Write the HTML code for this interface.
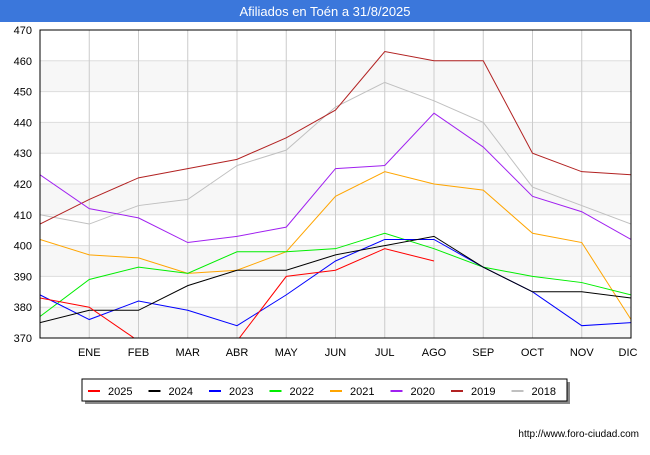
<!DOCTYPE html>
<html><head><meta charset="utf-8"><style>
body{margin:0;background:#fff;font-family:"Liberation Sans",sans-serif}
</style></head><body>
<svg width="650" height="450" xmlns="http://www.w3.org/2000/svg" font-family="Liberation Sans, sans-serif">
<rect x="0" y="0" width="650" height="22" fill="#3b77db"/>
<text x="325" y="16" text-anchor="middle" fill="#fff" font-size="13">Afiliados en Toén a 31/8/2025</text>
<g id="grid"></g>
<g id="series" clip-path="url(#c)"></g>
<defs><clipPath id="c"><rect x="40" y="30" width="591" height="308"/></clipPath></defs>
<rect x="40" y="30" width="591" height="308" fill="none" stroke="#000"/>
<g id="axes"></g>
<rect x="85" y="382" width="485" height="22" fill="#888"/>
<rect x="82" y="379" width="485" height="22" fill="#fff" stroke="#000"/>
<g id="legend"></g>
<text x="639" y="437" text-anchor="end" font-size="10">http://www.foro-ciudad.com</text>
</svg>
<script>
const months=["","ENE","FEB","MAR","ABR","MAY","JUN","JUL","AGO","SEP","OCT","NOV","DIC"];
const yTicks=[370,380,390,400,410,420,430,440,450,460,470];
const names=["2025","2024","2023","2022","2021","2020","2019","2018"];
const colors=["#ff0000","#000000","#0000ff","#00ee00","#ffa500","#a020f0","#b22222","#c0c0c0"];
const s2025=[383,380,369,365,369,390,392,399,395];
const s2024=[375,379,379,387,392,392,397,400,403,393,385,385,383];
const s2023=[384,376,382,379,374,384,395,402,402,393,385,374,375];
const s2022=[377,389,393,391,398,398,399,404,399,393,390,388,384];
const s2021=[402,397,396,391,392,398,416,424,420,418,404,401,376];
const s2020=[423,412,409,401,403,406,425,426,443,432,416,411,402];
const s2019=[407,415,422,425,428,435,444,463,460,460,430,424,423];
const s2018=[410,407,413,415,426,431,445,453,447,440,419,413,407];
const all=[s2025,s2024,s2023,s2022,s2021,s2020,s2019,s2018];
const NS="http://www.w3.org/2000/svg";
const X=i=>40+i*(591/12), Y=v=>338-(v-370)*308/100;
function mk(t,a,p){const e=document.createElementNS(NS,t);for(const k in a)e.setAttribute(k,a[k]);p.appendChild(e);return e;}
const g=document.getElementById("grid"),ax=document.getElementById("axes");
for(let i=0;i<yTicks.length-1;i+=2){const r=mk("rect",{x:40,y:Y(yTicks[i+1]),width:591,height:Y(yTicks[i])-Y(yTicks[i+1]),fill:"#f7f7f7"},g);

}
yTicks.forEach(v=>{const l=mk("line",{x1:40,x2:631,y1:Y(v),y2:Y(v),stroke:"#ddd"},g);


const t=mk("text",{x:32,y:Y(v)+4,"text-anchor":"end","font-size":"11"},ax);t.textContent=v;

});
months.forEach((m,i)=>{if(i>0){const l=mk("line",{x1:X(i),x2:X(i),y1:30,y2:338,stroke:"#ccc"},g);

}
const t=mk("text",{x:X(i)-(i==12?3:0),y:356,"text-anchor":"middle","font-size":"11"},ax);t.textContent=m;

});
const sg=document.getElementById("series");
for(let k=all.length-1;k>=0;k--){const p=mk("polyline",{points:all[k].map((v,i)=>X(i)+","+Y(v)).join(" "),fill:"none",stroke:colors[k],"stroke-width":1},sg);

}
const lg=document.getElementById("legend");
names.forEach((n,k)=>{const x=88+k*60.5;const l=mk("line",{x1:x,x2:x+12,y1:391,y2:391,stroke:colors[k],"stroke-width":2},lg);


const t=mk("text",{x:x+20,y:395,"font-size":"11"},lg);t.textContent=n;

});
</script>
</body></html>
